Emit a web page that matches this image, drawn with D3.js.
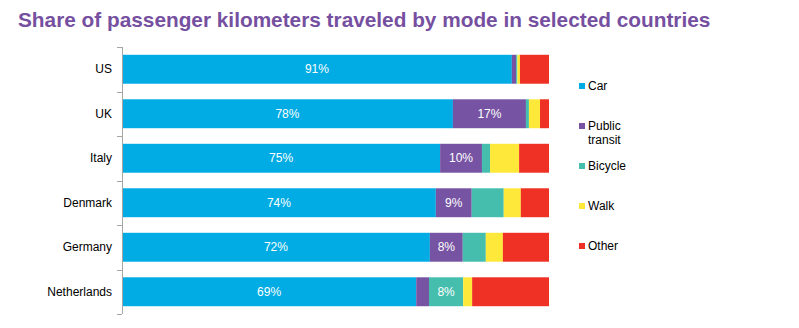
<!DOCTYPE html>
<html><head><meta charset="utf-8">
<script src="https://cdn.jsdelivr.net/npm/d3@7"></script>
<style>body{margin:0;background:#fff;}svg{display:block;font-family:"Liberation Sans",Arial,sans-serif;}</style>
</head><body><svg id="c" width="799" height="328"></svg>
<script>
const countries = ["US","UK","Italy","Denmark","Germany","Netherlands"];
const modes = ["Car","Public transit","Bicycle","Walk","Other"];
const car     = [91.3, 77.5, 74.5, 73.5, 72.1, 68.9];
const transit = [1.0, 17.1, 9.8, 8.4, 7.7, 3.0];
const bicycle = [0.3, 0.7, 1.9, 7.5, 5.4, 8.0];
const walk    = [0.6, 2.6, 6.8, 4.0, 4.0, 2.1];
const other   = [6.8, 2.1, 7.0, 6.6, 10.8, 18.0];
const labelCar     = ["91%","78%","75%","74%","72%","69%"];
const labelTransit = ["","17%","10%","9%","8%",""];
const labelBicycle = ["","","","","","8%"];
const colors = ["#00ACE3","#7654A3","#45BEAD","#FEE839","#EE3124"];

const series = [car, transit, bicycle, walk, other];
const labels = [labelCar, labelTransit, labelBicycle, null, null];
const rows = countries.map((c,i)=>{const r={country:c}; modes.forEach((m,j)=>r[m]=series[j][i]); return r;});
const stacked = d3.stack().keys(modes)(rows);

const svg = d3.select("#c");
const x = d3.scaleLinear().domain([0,100]).range([122,549]);
const y = d3.scaleBand().domain(countries).range([47,314]).paddingInner(0.35).paddingOuter(0.175);

svg.append("text").attr("x",18).attr("y",27).attr("fill","#7650A0")
  .attr("font-size",20.8).attr("font-weight","bold").text("Share of passenger kilometers traveled by mode in selected countries");

stacked.forEach((layer,j)=>{
  svg.append("g").selectAll("rect").data(layer).join("rect")
    .attr("x",d=>x(d[0])).attr("width",d=>x(d[1])-x(d[0]))
    .attr("y",d=>y(d.data.country)).attr("height",y.bandwidth())
    .attr("fill",colors[j]);
  if(labels[j]){
    svg.append("g").selectAll("text").data(layer).join("text")
      .attr("x",d=>(x(d[0])+x(d[1]))/2).attr("y",d=>y(d.data.country)+y.bandwidth()/2)
      .attr("dy","0.35em").attr("text-anchor","middle").attr("fill","#fff").attr("font-size",12)
      .text((d,i)=>labels[j][i]);
  }
});

// axis
const yAxis = d3.axisLeft(y).tickSize(0).tickPadding(10);
const ag = svg.append("g").attr("transform","translate(122,0)").call(yAxis);
ag.select(".domain").remove();
ag.selectAll("text").attr("font-size",12).attr("fill","#000").attr("font-family","Liberation Sans, Arial, sans-serif");
svg.append("line").attr("x1",122.5).attr("x2",122.5).attr("y1",47).attr("y2",314).attr("stroke","#a6a6a6");
const tickYs = d3.range(countries.length+1).map(i=>47+i*(314-47)/countries.length);
svg.append("g").selectAll("line").data(tickYs).join("line")
  .attr("x1",117).attr("x2",122).attr("y1",d=>Math.round(d)+0.5).attr("y2",d=>Math.round(d)+0.5).attr("stroke","#a6a6a6");

// legend
const legendY = [86,126,166,206,246];
const lg = svg.append("g");
modes.forEach((m,i)=>{
  lg.append("rect").attr("x",579).attr("y",legendY[i]-3).attr("width",6).attr("height",6).attr("fill",colors[i]);
  const t = lg.append("text").attr("x",588).attr("y",legendY[i]).attr("dy","0.35em").attr("font-size",12).attr("fill","#000");
  if(m==="Public transit"){
    t.append("tspan").attr("x",588).text("Public");
    t.append("tspan").attr("x",588).attr("dy","1.15em").text("transit");
  } else t.text(m);
});
</script></body></html>
